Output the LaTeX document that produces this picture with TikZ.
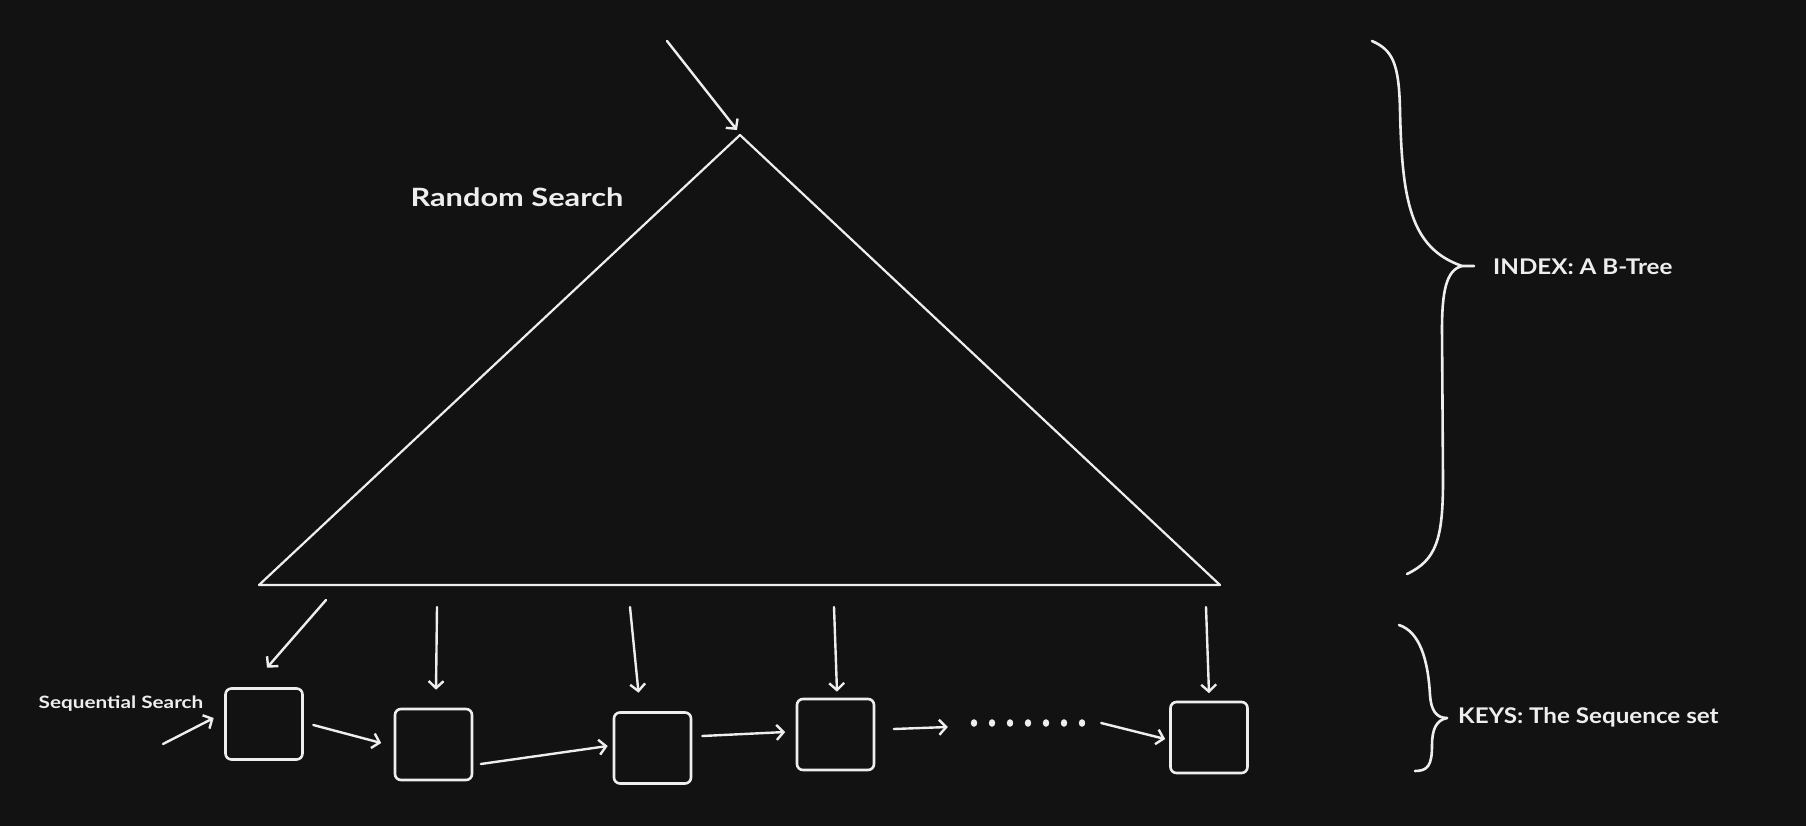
\documentclass[tikz,border=0pt]{standalone}
\usepackage{fontspec}
\setmainfont{Lato}
\newfontfamily\handwide[FakeStretch=1.22]{Lato}
\newfontfamily\handmid[FakeStretch=1.12]{Lato}
\usetikzlibrary{arrows.meta,calc}
\definecolor{bg}{HTML}{121212}
\definecolor{ink}{HTML}{EEEEEE}
\tikzset{
  keybox/.style={draw=ink, line width=2.6pt, rounded corners=6pt, minimum width=77pt, minimum height=71pt, inner sep=0pt},
  arr/.style={draw=ink, line width=2.4pt, line cap=round, -{Straight Barb[length=7pt,width=15pt,line width=2.4pt]}},
  edge/.style={draw=ink, line width=2.2pt, line cap=round, line join=round},
  brace/.style={draw=ink, line width=2.6pt, line cap=round},
  lbl/.style={text=ink, inner sep=0pt},
}
\begin{document}
\begin{tikzpicture}[x=1pt,y=-1pt]
\fill[bg] (0,0) rectangle (1806,826);
\useasboundingbox (0,0) rectangle (1806,826);

% triangle
\coordinate (apex) at (740,135);
\coordinate (tl) at (259,585);
\coordinate (tr) at (1220,585);
\draw[edge] (tl) -- (apex) -- (tr) -- cycle;
\coordinate (topin) at (667,41);
\draw[arr] (topin) -- ($(apex)+(-3,-5)$);
\node[lbl, font=\handwide\bfseries\fontsize{25.2}{29}\selectfont] (rs) at (517,197) {Random Search};

% boxes
\node[keybox] (b1) at (264,724) {};
\node[keybox] (b2) at (433.5,744.5) {};
\node[keybox] (b3) at (652.5,748) {};
\node[keybox] (b4) at (835.5,734.5) {};
\node[keybox] (b5) at (1209,737.5) {};
\node[minimum width=120pt, minimum height=10pt, inner sep=0pt] (dots) at (1028,723) {};
\foreach \i in {0,...,6} \fill[ink] (974+18*\i,723) ellipse (3.2pt and 3.8pt);

% sequential chain
\coordinate (s0) at (163,744);
\node[lbl, font=\handwide\bfseries\fontsize{17}{20}\selectfont] (seq) at (121,704) {Sequential Search};
\draw[arr] (s0) -- ($(b1.west)+(-10.5,-6)$);
\draw[arr] ($(b1.east)+(9.5,1)$) -- ($(b2.west)+(-12.5,-1.5)$);
\draw[arr] ($(b2.east)+(7.5,19.5)$) -- ($(b3.west)+(-5,-2)$);
\draw[arr] ($(b3.east)+(10,-12)$) -- ($(b4.west)+(-10.5,-2.5)$);
\draw[arr] ($(b4.east)+(18.5,-5.5)$) -- ($(dots.west)+(-20,4)$);
\draw[arr] ($(dots.east)+(13,0)$) -- ($(b5.west)+(-4,1.5)$);

% tree to leaves
\coordinate (t1) at (326,600);
\coordinate (t2) at (437,607);
\coordinate (t3) at (630,607);
\coordinate (t4) at (834,607);
\coordinate (t5) at (1206,607);
\draw[arr] (t1) -- ($(b1.north)+(3,-19.5)$);
\draw[arr] (t2) -- ($(b2.north)+(2.5,-18)$);
\draw[arr] (t3) -- ($(b3.north)+(-14,-18.5)$);
\draw[arr] (t4) -- ($(b4.north)+(1.5,-6)$);
\draw[arr] (t5) -- ($(b5.north)+(0,-7.5)$);

% braces
\draw[brace] (1372,41) .. controls (1392,50) and (1399,62) .. (1400,110)
  .. controls (1402,200) and (1410,248) .. (1462,266) -- (1474,266);
\draw[brace] (1462,266) .. controls (1446,270) and (1442,292) .. (1442,330)
  -- (1443,480) .. controls (1443,540) and (1436,560) .. (1407,574);
\node[lbl, anchor=west, font=\handmid\bfseries\fontsize{21.6}{25}\selectfont] (idx) at (1493,267) {INDEX: A B-Tree};

\draw[brace] (1399,625) .. controls (1420,632) and (1428,660) .. (1430,695)
  .. controls (1431,710) and (1436,718) .. (1447,718);
\draw[brace] (1447,718) .. controls (1436,720) and (1432,730) .. (1432,745)
  .. controls (1432,765) and (1428,771) .. (1415,771);
\node[lbl, anchor=west, font=\handmid\bfseries\fontsize{21.6}{25}\selectfont] (keys) at (1458,717) {KEYS: The Sequence set};
\end{tikzpicture}
\end{document}
